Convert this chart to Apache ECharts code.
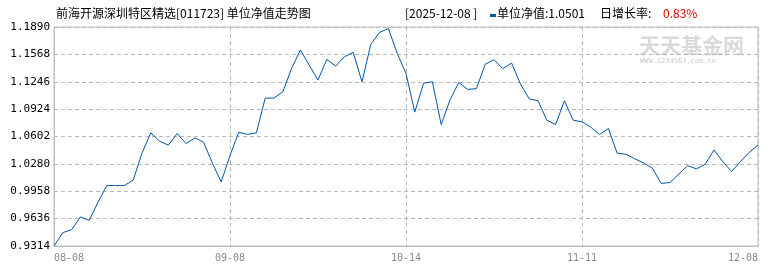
<!DOCTYPE html>
<html><head><meta charset="utf-8">
<script src="https://cdn.jsdelivr.net/npm/echarts@6/dist/echarts.min.js"></script>
<style>html,body{margin:0;padding:0;background:#fff}#c{width:770px;height:270px}</style>
</head><body><div id="c"></div>
<script>
const dates = [
 '08-08','08-11','08-12','08-13','08-14','08-15','08-18','08-19','08-20','08-21','08-22',
 '08-25','08-26','08-27','08-28','08-29','09-01','09-02','09-03','09-04','09-05',
 '09-08','09-09','09-10','09-11','09-12','09-15','09-16','09-17','09-18','09-19',
 '09-22','09-23','09-24','09-25','09-26','09-29','09-30','10-09','10-10','10-13',
 '10-14','10-15','10-16','10-17','10-20','10-21','10-22','10-23','10-24','10-27',
 '10-28','10-29','10-30','10-31','11-03','11-04','11-05','11-06','11-07','11-10',
 '11-11','11-12','11-13','11-14','11-17','11-18','11-19','11-20','11-21','11-24',
 '11-25','11-26','11-27','11-28','12-01','12-02','12-03','12-04','12-05','12-08'
];
const navValues = [
 0.9314,0.9471,0.9506,0.9656,0.9616,0.9828,1.0025,1.0025,1.0025,1.0090,1.0406,
 1.0645,1.0547,1.0500,1.0637,1.0519,1.0586,1.0535,1.0288,1.0067,1.0379,
 1.0653,1.0626,1.0645,1.1054,1.1054,1.1128,1.1404,1.1620,1.1442,1.1266,
 1.1509,1.1430,1.1540,1.1592,1.1246,1.1686,1.1827,1.1872,1.1580,1.1344,
 1.0889,1.1230,1.1246,1.0743,1.1033,1.1238,1.1156,1.1164,1.1451,1.1505,
 1.1400,1.1466,1.1220,1.1045,1.1022,1.0794,1.0743,1.1022,1.0794,1.0774,
 1.0711,1.0625,1.0696,1.0405,1.0393,1.0339,1.0292,1.0229,1.0050,1.0061,
 1.0160,1.0260,1.0221,1.0276,1.0444,1.0307,1.0190,1.0307,1.0414,1.0501
];
const xTickLabels = ['08-08','09-08','10-14','11-11','12-08'];
const yMin = 0.9314, yMax = 1.1890, yStep = 0.0322;
const titleText = '前海开源深圳特区精选[011723] 单位净值走势图';
const dateText = '[2025-12-08 ]';
const navText = '单位净值:1.0501';
const growthLabel = '日增长率:';
const growthText = '0.83%';

const mono = "'DejaVu Sans Mono', 'Liberation Mono', monospace";
const cjk = "'Noto Sans CJK SC', sans-serif";
const chart = echarts.init(document.getElementById('c'), null, {renderer:'canvas'});
chart.setOption({
  animation:false,
  grid:{left:54, right:12, top:27, bottom:24, show:true, borderColor:'#bdbdbd', borderWidth:1, containLabel:false},
  xAxis:{
    type:'category', data:dates, boundaryGap:false,
    axisLine:{show:true, lineStyle:{color:'#bdbdbd'}},
    axisTick:{show:false},
    axisLabel:{interval:19, color:'#888', fontFamily:mono, fontSize:10, margin:7,
      alignMinLabel:'left', alignMaxLabel:'right',
      formatter:(v,i)=>xTickLabels[Math.round(i/20)]},
    splitLine:{show:true, interval:19, lineStyle:{color:'#b8b8b8', type:[4,3], width:1}}
  },
  yAxis:{
    type:'value', min:yMin, max:yMax, interval:yStep,
    axisLine:{show:true, lineStyle:{color:'#bdbdbd'}},
    axisTick:{show:false},
    axisLabel:{color:'#000', fontFamily:mono, fontSize:11, margin:4, formatter:v=>v.toFixed(4)},
    splitLine:{show:true, lineStyle:{color:'#b8b8b8', type:[4,3], width:1}}
  },
  graphic:[
    {type:'text', left:56, top:7, z:10, style:{text:titleText, font:"12px "+cjk, fill:'#000'}},
    {type:'text', left:405, top:7, z:10, style:{text:dateText, font:"12px "+cjk, fill:'#000'}},
    {type:'rect', left:490, top:14, z:10, shape:{width:6, height:3}, style:{fill:'#0055a5'}},
    {type:'text', left:497, top:7, z:10, style:{text:navText, font:"12px "+cjk, fill:'#000'}},
    {type:'text', left:600, top:7, z:10, style:{text:growthLabel, font:"12px "+cjk, fill:'#000'}},
    {type:'text', left:663, top:7, z:10, style:{text:growthText, font:"12px "+cjk, fill:'#d00'}},
    {type:'text', left:639, top:35, z:0, style:{text:'天天基金网', font:"bold 21px "+cjk, fill:'#d9d9d9'}},
    {type:'text', left:640, top:58, z:0, style:{text:'WWW.1234567.com.cn', font:"7px "+mono, fill:'#c8c8c8'}}
  ],
  series:[{
    type:'line', data:navValues, showSymbol:false, symbol:'none',
    lineStyle:{color:'#0055a5', width:1}, z:5
  }]
});
</script></body></html>
